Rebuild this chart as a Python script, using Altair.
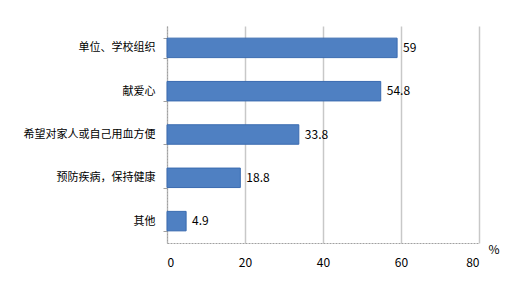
import altair as alt
import pandas as pd

categories = ["单位、学校组织", "献爱心", "希望对家人或自己用血方便", "预防疾病，保持健康", "其他"]
values = [59, 54.8, 33.8, 18.8, 4.9]
labels = ["59", "54.8", "33.8", "18.8", "4.9"]
x_ticks = [0, 20, 40, 60, 80]

df = pd.DataFrame({"cat": categories, "val": values, "lab": labels})

FONT = "Noto Sans CJK SC"

x_enc = alt.X(
    "val:Q",
    scale=alt.Scale(domain=[0, 80], nice=False),
    axis=alt.Axis(
        values=x_ticks,
        title="%",
        titleX=321,
        titleY=6,
        titleAlign="left",
        titleBaseline="middle",
        titleFontWeight="normal",
        titleFontSize=12,
        titleFont=FONT,
        titleColor="#000000",
        grid=True,
        gridColor="#C8C8C8",
        gridWidth=1.5,
        domainColor="#A0A0A0",
        domainDash=[2, 1],
        ticks=False,
        labelPadding=14,
        labelFont=FONT,
        labelFontSize=12,
        labelColor="#000000",
    ),
)
y_enc = alt.Y(
    "cat:N",
    sort=categories,
    scale=alt.Scale(paddingInner=0.55, paddingOuter=0.28),
    axis=alt.Axis(
        title=None,
        domainColor="#A0A0A0",
        domainDash=[2, 1],
        ticks=True,
        tickBand="extent",
        tickSize=4,
        tickColor="#A0A0A0",
        labelPadding=8,
        labelFont=FONT,
        labelFontSize=11,
        labelColor="#000000",
    ),
)

bars = alt.Chart(df).mark_bar(
    color="#4F80C2", stroke="#3A6BB0", strokeWidth=1
).encode(x=x_enc, y=y_enc)

texts = alt.Chart(df).mark_text(
    align="left", baseline="middle", dx=6, font=FONT, fontSize=12, color="#000000"
).encode(x="val:Q", y=alt.Y("cat:N", sort=categories), text="lab:N")

chart = (
    alt.layer(bars, texts)
    .properties(
        width=312,
        height=217,
        autosize=alt.AutoSizeParams(type="none"),
        padding={"left": 167, "top": 26, "right": 50, "bottom": 43},
        background="#FFFFFF",
    )
    .configure_view(stroke=None)
)

chart.save("out.html", embed_options={"renderer": "svg", "actions": False})
